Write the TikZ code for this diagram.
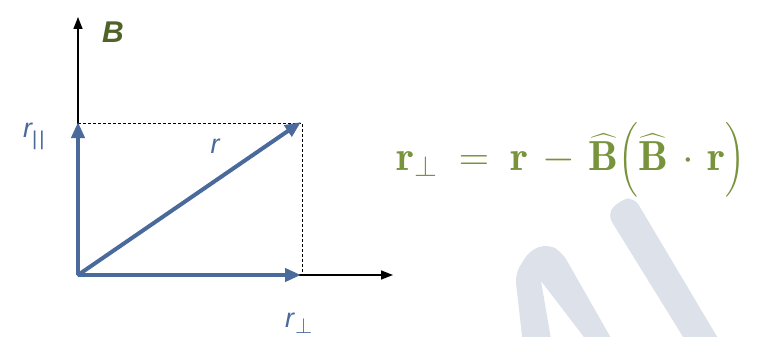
\RequirePackage{fix-cm}
\documentclass[tikz,border=0pt]{standalone}
\usepackage{fontspec}
\usepackage{amsmath}
\usetikzlibrary{arrows.meta}
\newfontfamily\labelfont{Liberation Sans}
\definecolor{vecblue}{HTML}{4A6A9B}
\definecolor{bgreen}{HTML}{4F6228}
\definecolor{eqgreen}{HTML}{77933C}
\definecolor{wmgray}{HTML}{DDE2EA}
\tikzset{
  axis/.style={black, line width=1.4pt, -{Triangle[length=12pt,width=9pt]}},
  vec/.style={vecblue, line width=4pt, -{Triangle[length=16pt,width=13pt]}},
  proj/.style={black, line width=0.9pt, dash pattern=on 3pt off 2pt},
  lbl/.style={text=vecblue, font=\labelfont\itshape\fontsize{27}{29}\selectfont, inner sep=0pt},
  wm/.style={fill=wmgray, draw=none, rounded corners=9pt}
}
\begin{document}
\begin{tikzpicture}[x=1pt, y=-1pt]
\useasboundingbox (0,0) rectangle (766,337);
% watermark
\fill[wm] (523,345) -- (515,274) -- (530,250) -- (548,244) -- (562,252) -- (615,345) -- (590,345) [sharp corners] -- (541,281) -- (552,345) -- cycle;
\fill[wm] (688,345) -- (607,214) -- (620,200) -- (634,197) -- (722,345) -- cycle;
% points
\coordinate (O) at (78,275);
\coordinate (Ytip) at (78,17);
\coordinate (Xtip) at (393,275);
\coordinate (P) at (302,123);
\coordinate (Pv) at (78,123);
\coordinate (Ph) at (302,275);
% axes
\draw[axis] (O) -- (Ytip);
\draw[axis] (O) -- (Xtip);
% projections
\draw[proj] (Pv) -- (P) -- (Ph);
% vectors
\draw[vec] (O) -- ([yshift=1pt]Pv);
\draw[vec] (O) -- ([xshift=-1pt]Ph);
\draw[vec, shorten <=-1pt] (O) -- ([xshift=-1pt,yshift=1pt]P);
% labels
\node[text=bgreen, font=\labelfont\bfseries\itshape\fontsize{30}{31}\selectfont, inner sep=0pt] (lB) at (113,32) {B};
\node[lbl, anchor=base west] (lpar) at (23,137) {r\raisebox{-8pt}{\fontsize{20}{20}\selectfont\upshape |\kern2pt|}};
\node[lbl] (lr) at (215,146) {r};
\node[lbl, anchor=base west] (lperp) at (285,327) {r\kern1pt\raisebox{-6pt}{\fontsize{22}{22}\selectfont\upshape$\perp$}};
% equation
\node[text=eqgreen, inner sep=0pt] (eq) at (571,160) {\fontsize{42}{46}\selectfont\thickmuskip=9mu\medmuskip=6mu$\mathbf{r}_{\perp}=\mathbf{r}-\widehat{\mathbf{B}}\Big(\widehat{\mathbf{B}}\cdot\mathbf{r}\Big)$};
\end{tikzpicture}
\end{document}
